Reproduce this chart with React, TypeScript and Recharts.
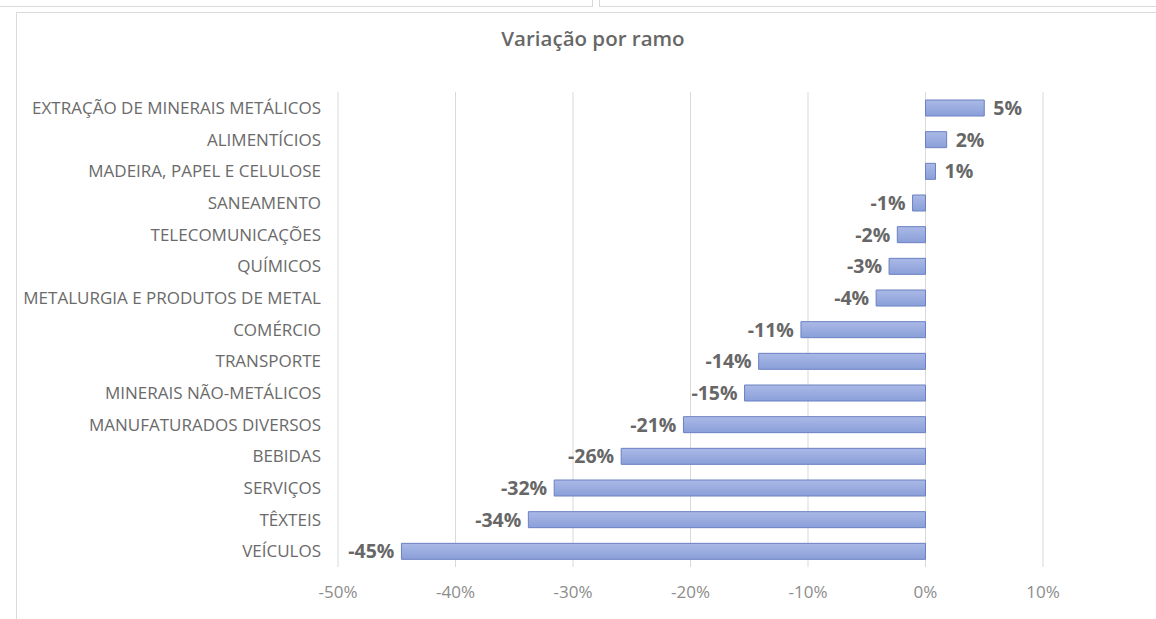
import React from "react";
import { BarChart, Bar, XAxis, YAxis, CartesianGrid, LabelList } from "recharts";

const categories = [
  "EXTRAÇÃO DE MINERAIS METÁLICOS",
  "ALIMENTÍCIOS",
  "MADEIRA, PAPEL E CELULOSE",
  "SANEAMENTO",
  "TELECOMUNICAÇÕES",
  "QUÍMICOS",
  "METALURGIA E PRODUTOS DE METAL",
  "COMÉRCIO",
  "TRANSPORTE",
  "MINERAIS NÃO-METÁLICOS",
  "MANUFATURADOS DIVERSOS",
  "BEBIDAS",
  "SERVIÇOS",
  "TÊXTEIS",
  "VEÍCULOS",
];

// variation in percentage points
const variation = [5.0, 1.8, 0.85, -1.1, -2.4, -3.1, -4.2, -10.6, -14.2, -15.4, -20.6, -25.9, -31.6, -33.8, -44.6];

const xTicks = [-50, -40, -30, -20, -10, 0, 10];

const data = categories.map((name, i) => ({ name, value: variation[i] }));

const FONT = "'Open Sans', 'DejaVu Sans', sans-serif";

function renderLabel(props: any) {
  const { x, y, width, height, value } = props;
  const left = Math.min(x, x + width);
  const right = Math.max(x, x + width);
  const neg = value < 0;
  return (
    <text
      x={neg ? left - 7 : right + 9}
      y={y + height / 2}
      dy="0.36em"
      textAnchor={neg ? "end" : "start"}
      fill="#676767"
      fontSize={19.5}
      fontWeight={700}
      fontFamily={FONT}
    >
      {Math.round(value) + "%"}
    </text>
  );
}

export default function App() {
  return (
    <div style={{ position: "absolute", left: 0, top: 0, width: 1156, height: 619, background: "#fff", overflow: "hidden", fontFamily: FONT }}>
      <div style={{ position: "absolute", left: -2, top: -10, width: 593, height: 15, border: "1px solid #d9d9d9" }} />
      <div style={{ position: "absolute", left: 599, top: -10, width: 600, height: 15, border: "1px solid #d9d9d9" }} />
      <div style={{ position: "absolute", left: 16, top: 12, width: 1200, height: 700, borderLeft: "1px solid #d9d9d9", borderTop: "1px solid #d9d9d9" }} />
      <div style={{ position: "absolute", left: 443, top: 24, width: 300, textAlign: "center", fontSize: 20.5, fontWeight: 600, color: "#676767", lineHeight: "28px" }}>
        Variação por ramo
      </div>
      <div style={{ position: "absolute", left: 0, top: 0 }}>
        <BarChart
          width={1156}
          height={619}
          data={data}
          layout="vertical"
          margin={{ top: 92, right: 113, bottom: 22, left: 0 }}
          barSize={16}
        >
          <defs>
            <linearGradient id="barFill" x1="0" y1="0" x2="0" y2="1">
              <stop offset="0%" stopColor="#aab9e6" />
              <stop offset="100%" stopColor="#8a9fd9" />
            </linearGradient>
          </defs>
          <CartesianGrid horizontal={false} stroke="#d9d9d9" />
          <XAxis
            type="number"
            domain={[-50, 10]}
            ticks={xTicks}
            tickFormatter={(v: number) => v + "%"}
            axisLine={false}
            tickLine={false}
            tickSize={0}
            tickMargin={19}
            height={30}
            tick={{ fontSize: 17, fill: "#8c8c8c", fontFamily: FONT }}
          />
          <YAxis
            type="category"
            dataKey="name"
            width={338}
            axisLine={false}
            tickLine={false}
            tickSize={0}
            tickMargin={17}
            interval={0}
            tick={{ fontSize: 17, fill: "#6a6a6a", fontFamily: FONT }}
          />
          <Bar dataKey="value" fill="url(#barFill)" stroke="#6b80c2" strokeWidth={1} isAnimationActive={false}>
            <LabelList dataKey="value" content={renderLabel} />
          </Bar>
        </BarChart>
      </div>
    </div>
  );
}
